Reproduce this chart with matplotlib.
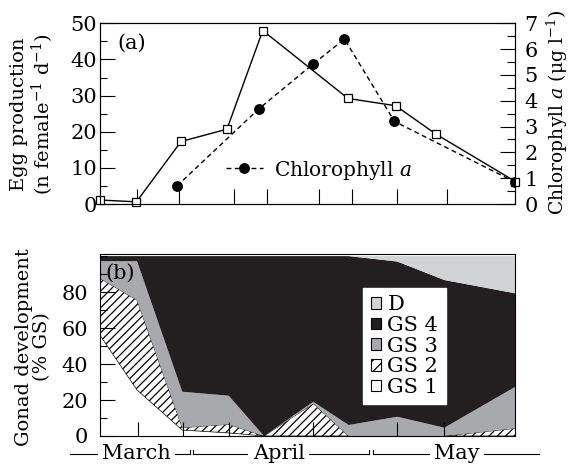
import matplotlib
matplotlib.use('Agg')
import matplotlib.pyplot as plt
import matplotlib.transforms as mtransforms
from matplotlib.patches import Patch
from matplotlib.lines import Line2D
from matplotlib.ticker import MultipleLocator

plt.rcParams['font.family'] = ['DejaVu Serif']
plt.rcParams['mathtext.fontset'] = 'dejavuserif'
plt.rcParams['hatch.linewidth'] = 0.9

# ---- data (x = day counted from 1 March) ----
egg_day = [15.7, 21.9, 29.5, 37.3, 43.4, 57.9, 66.0, 72.9, 86.4]
egg_prod = [1.1, 0.6, 17.3, 20.7, 48.0, 29.2, 27.2, 19.3, 6.2]
chl_day = [28.8, 42.7, 51.9, 57.3, 65.8, 86.4]
chl_a = [0.70, 3.68, 5.41, 6.39, 3.2, 0.84]
top_tick_days = [22.0, 29.1, 38.5, 44.2, 53.0, 58.6, 66.3, 74.8]

gonad_day = [15.7, 22.0, 29.7, 37.6, 43.6, 52.0, 58.0, 66.3, 74.3, 86.4]
gs1 = [56, 25.6, 3.3, 1.7, 0, 0, 0, 0, 0, 0]
gs2 = [31.6, 50, 1.3, 4.8, 0, 18, 0, 0, 0, 4.3]
gs3 = [9.6, 21.6, 20, 15.9, 0, 1, 6.1, 10.7, 4.6, 23.1]
gs4 = [2.8, 2.8, 75.4, 77.6, 100, 81, 93.9, 86.3, 82.1, 51.9]
gs_d = [0, 0, 0, 0, 0, 0, 0, 3, 13.3, 20.7]
bottom_tick_days = [22.1, 29.8, 37.6, 52.0, 66.3, 74.3]

months = ['March', 'April', 'May']
month_spans = [(10.6, 31.1), (31.6, 61.4), (62.1, 90.4)]
month_label_days = [21.9, 46.1, 76.5]

stage_labels = ['D', 'GS 4', 'GS 3', 'GS 2', 'GS 1']
c_gs3 = '#a7a9ac'
c_gs4 = '#231f20'
c_d = '#d1d3d4'

FS = 15
LFS = 14
XLIM = (15.7, 86.4)

fig = plt.figure(figsize=(5.72, 4.68), dpi=100)
ax1 = fig.add_axes([0.1748, 0.5641, 0.7264, 0.3861])
ax2 = ax1.twinx()
ax3 = fig.add_axes([0.1748, 0.0684, 0.7264, 0.3882])

# ---- panel (a) ----
ax1.plot(egg_day, egg_prod, '-', color='black', lw=1.0, marker='s', ms=6,
         mfc='white', mec='black', mew=0.9, clip_on=False, zorder=3)
ax2.plot(chl_day, chl_a, color='black', lw=1.0, dashes=(3.5, 2.5),
         marker='o', ms=6.8, mfc='black', mec='black')
ax1.set_xlim(*XLIM)
ax1.set_ylim(0, 50)
ax2.set_ylim(0, 7)
ax1.set_xticks(top_tick_days)
ax1.tick_params(axis='x', direction='in', length=10.8, width=0.8,
                labelbottom=False, top=False)
ax1.yaxis.set_major_locator(MultipleLocator(10))
ax1.yaxis.set_minor_locator(MultipleLocator(5))
ax1.tick_params(axis='y', which='major', direction='in', length=10.8, width=0.8,
                labelsize=FS, pad=2)
ax1.tick_params(axis='y', which='minor', direction='in', length=5.2, width=0.8)
ax2.yaxis.set_major_locator(MultipleLocator(1))
ax2.yaxis.set_minor_locator(MultipleLocator(0.5))
ax2.tick_params(axis='y', which='major', direction='in', length=10.8, width=0.8,
                labelsize=FS, pad=6.5)
ax2.tick_params(axis='y', which='minor', direction='in', length=5.5, width=0.8)
for a in (ax1, ax2, ax3):
    for s in a.spines.values():
        s.set_linewidth(0.8)

leg_h = Line2D([], [], color='black', lw=1.0, dashes=(3.5, 2.5), marker='o',
               ms=6.8, mfc='black', mec='black')
ax1.legend([leg_h], ['Chlorophyll $a$'], loc='center left',
           bbox_to_anchor=(0.304, 0.188), frameon=False, fontsize=14.5,
           handlelength=1.8, handletextpad=0.55, borderaxespad=0, borderpad=0)
ax1.text(0.041, 0.89, '(a)', transform=ax1.transAxes, ha='left', va='center',
         fontsize=FS)

# ---- panel (b) ----
polys = ax3.stackplot(gonad_day, gs1, gs2, gs3, gs4, gs_d,
                      colors=['white', 'white', c_gs3, c_gs4, c_d],
                      linewidth=0)
polys[1].set_hatch('////')
polys[1].set_edgecolor('black')
polys[1].set_linewidth(0.5)
ax3.set_xlim(*XLIM)
ax3.set_ylim(0, 101)
ax3.set_xticks(bottom_tick_days)
ax3.tick_params(axis='x', direction='in', length=10.3, width=0.8,
                labelbottom=False, top=False)
ax3.set_yticks([0, 20, 40, 60, 80])
ax3.yaxis.set_minor_locator(MultipleLocator(10))
ax3.tick_params(axis='y', which='major', direction='in', length=10.8, width=0.8,
                labelsize=FS, pad=8.5)
ax3.tick_params(axis='y', which='minor', direction='in', length=5.2, width=0.8)
ax3.set_axisbelow(False)

handles = [Patch(facecolor=c_d, edgecolor='black', lw=0.8),
           Patch(facecolor=c_gs4, edgecolor='black', lw=0.8),
           Patch(facecolor=c_gs3, edgecolor='black', lw=0.8),
           Patch(facecolor='white', edgecolor='black', lw=0.8, hatch='///'),
           Patch(facecolor='white', edgecolor='black', lw=0.8)]
leg = ax3.legend(handles, stage_labels, loc='upper left',
                 bbox_to_anchor=(0.634, 0.815), frameon=True, fancybox=False,
                 facecolor='white', edgecolor='white', framealpha=1,
                 fontsize=FS, borderpad=0.35, labelspacing=0.08,
                 handlelength=0.5, handleheight=0.5, handletextpad=0.3,
                 borderaxespad=0)
ax3.text(0.012, 0.897, '(b)', transform=ax3.transAxes, ha='left', va='center',
         fontsize=FS)

# month bar
trans = mtransforms.blended_transform_factory(ax3.transData, ax3.transAxes)
ym = -0.099
up = 0.022
for i, (name, (s, e), xl) in enumerate(zip(months, month_spans, month_label_days)):
    ax3.plot([s, e], [ym, ym], color='black', lw=0.8, transform=trans,
             clip_on=False)
    if i > 0:
        ax3.plot([s, s], [ym, ym + up], color='black', lw=0.8, transform=trans,
                 clip_on=False)
    if i < len(months) - 1:
        ax3.plot([e, e], [ym, ym + up], color='black', lw=0.8, transform=trans,
                 clip_on=False)
    ax3.text(xl, ym, name, transform=trans, ha='center', va='center',
             fontsize=FS, zorder=5,
             bbox=dict(facecolor='white', edgecolor='none', pad=3))

# axis labels
fig.text(33 / 572, 1 - 114 / 468, 'Egg production\n(n female$^{-1}$ d$^{-1}$)',
         rotation=90, ha='center', va='center', fontsize=LFS,
         multialignment='center', linespacing=1.05)
fig.text(557 / 572, 1 - 112 / 468, 'Chlorophyll $a$ (μg l$^{-1}$)',
         rotation=90, ha='center', va='center', fontsize=13.5)
fig.text(33 / 572, 1 - 347 / 468, 'Gonad development\n(% GS)',
         rotation=90, ha='center', va='center', fontsize=LFS,
         multialignment='center', linespacing=1.05)

fig.savefig('out.png', dpi=100)
